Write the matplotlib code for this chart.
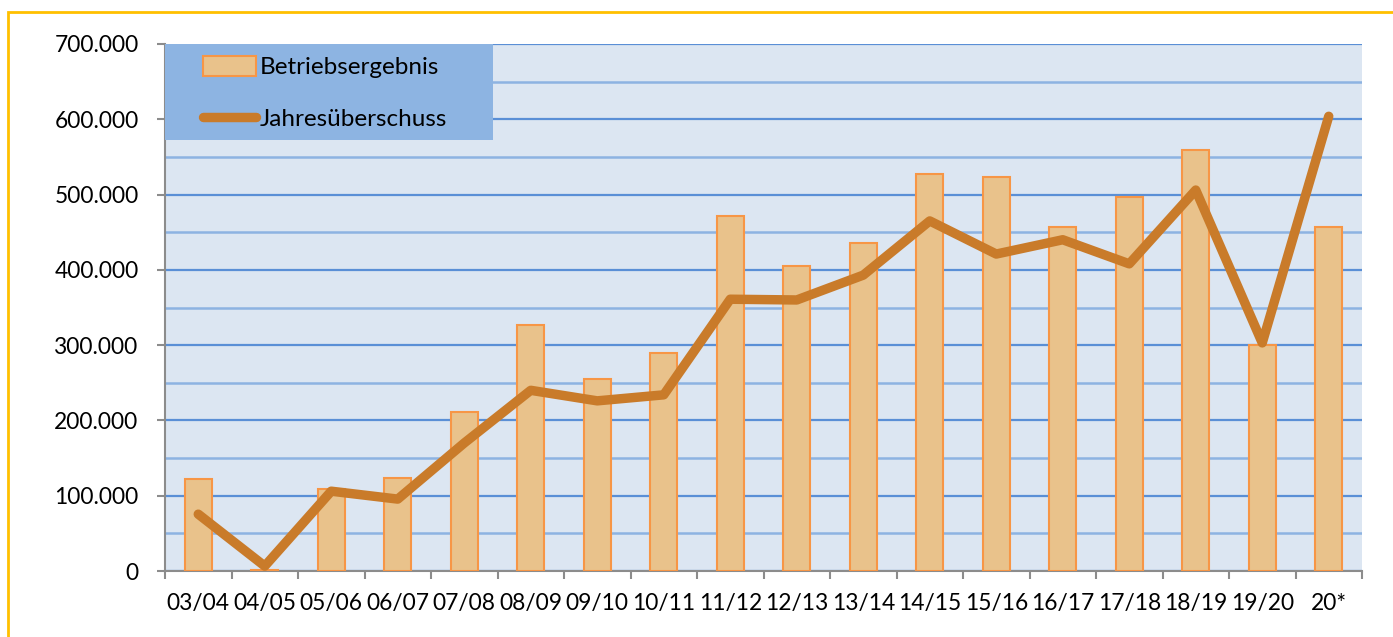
import matplotlib.pyplot as plt
import matplotlib.patches as mpatches
from matplotlib.lines import Line2D
from matplotlib.ticker import MultipleLocator, FuncFormatter
import numpy as np

# Geschäftsjahre
jahre = ["03/04", "04/05", "05/06", "06/07", "07/08", "08/09", "09/10", "10/11", "11/12",
         "12/13", "13/14", "14/15", "15/16", "16/17", "17/18", "18/19", "19/20", "20*"]

# Werte in Euro
betriebsergebnis = [122000, 1500, 109000, 123500, 211000, 327000, 255000, 290000, 471500,
                    405000, 435500, 527000, 523000, 457000, 497000, 559000, 300000, 457000]
jahresueberschuss = [75500, 6500, 106000, 95500, 170000, 240000, 226000, 234000, 361000,
                     360000, 393000, 465000, 421000, 440000, 408000, 506000, 303000, 604000]

plt.rcParams['font.family'] = ['Lato', 'DejaVu Sans']
fs = 16.4

fig = plt.figure(figsize=(13.93, 6.37), dpi=100)
ax = fig.add_axes([165 / 1393, 66 / 637, 1197 / 1393, 527 / 637])
ax.set_facecolor("#dce6f2")

x = np.arange(len(jahre))
ax.bar(x, betriebsergebnis, width=0.4, color="#e9c28b", edgecolor="#f79646",
       linewidth=1.5, zorder=3)
ax.plot(x, jahresueberschuss, color="#c97b2a", linewidth=6.8, solid_capstyle="round",
        solid_joinstyle="round", zorder=4)

ax.set_xlim(-0.5, len(jahre) - 0.5)
ax.set_ylim(0, 700000)

# Gitterlinien
ax.yaxis.set_major_locator(MultipleLocator(100000))
ax.yaxis.set_minor_locator(MultipleLocator(50000))
ax.grid(which="major", axis="y", color="#5a8fd6", linewidth=1.6, zorder=1)
ax.grid(which="minor", axis="y", color="#8db3e2", linewidth=1.8, zorder=1)
ax.yaxis.set_major_formatter(FuncFormatter(lambda v, p: f"{int(v):,}".replace(",", ".")))

ax.set_xticks(x)
ax.set_xticklabels(jahre)
ax.set_xticks(np.arange(-0.5, len(jahre)), minor=True)
ax.tick_params(axis="x", which="major", length=0, pad=16, labelsize=fs)
ax.tick_params(axis="x", which="minor", length=6, width=1.5, color="#8c8c8c")
ax.tick_params(axis="y", which="major", length=6, width=1.5, color="#8c8c8c",
               labelsize=fs, pad=13)
ax.tick_params(axis="y", which="minor", length=0)

for s in ["top", "right"]:
    ax.spines[s].set_visible(False)
for s in ["left", "bottom"]:
    ax.spines[s].set_color("#8c8c8c")
    ax.spines[s].set_linewidth(1.5)

# Legende (Kasten separat gezeichnet)
box = mpatches.Rectangle((0, (571 - 140) / 527), 328 / 1197, 96 / 527,
                         transform=ax.transAxes, facecolor="#8db4e2",
                         edgecolor="none", zorder=5)
ax.add_patch(box)
handles = [mpatches.Patch(facecolor="#e9c28b", edgecolor="#f79646", linewidth=1.5,
                          label="Betriebsergebnis"),
           Line2D([0], [0], color="#c97b2a", linewidth=6.8, solid_capstyle="round",
                  label="Jahresüberschuss")]
leg = ax.legend(handles=handles, loc="center left",
                bbox_to_anchor=(38 / 1197, (571 - 93) / 527),
                frameon=False, fontsize=17.5, borderaxespad=0, borderpad=0,
                handlelength=2.2, handleheight=0.85, handletextpad=0.12,
                labelspacing=1.2)
leg.set_zorder(6)

# Rahmen
fig.patches.append(mpatches.Rectangle((8 / 1393, -0.1), 1.5, 0.1 + (637 - 12) / 637,
                                      transform=fig.transFigure, fill=False,
                                      edgecolor="#ffc000", linewidth=2))

fig.savefig("out.png", dpi=100)
